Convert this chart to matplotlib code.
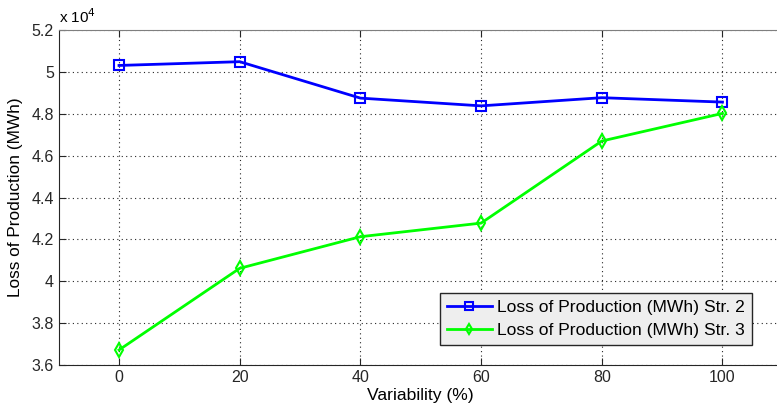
"""Loss of production versus variability for strategies 2 and 3."""

import matplotlib

matplotlib.use("Agg")

import matplotlib.pyplot as plt  # noqa: E402

plt.rcParams["font.family"] = ["Liberation Sans", "DejaVu Sans"]

variability = [0, 20, 40, 60, 80, 100]
loss_str2 = [5.031, 5.049, 4.875, 4.838, 4.877, 4.856]
loss_str3 = [3.672, 4.062, 4.213, 4.278, 4.670, 4.802]
x_ticks = [0, 20, 40, 60, 80, 100]
y_ticks = [3.6, 3.8, 4.0, 4.2, 4.4, 4.6, 4.8, 5.0, 5.2]
y_labels = ["3.6", "3.8", "4", "4.2", "4.4", "4.6", "4.8", "5", "5.2"]


def main() -> None:
    fig = plt.figure(figsize=(7.77, 4.12), dpi=100)
    ax = fig.add_axes([0.0755, 0.114, 0.932, 0.813])

    ax.plot(variability, loss_str2, color="#0000ff", linewidth=2.0,
            marker="s", markersize=7, markerfacecolor="none",
            markeredgewidth=1.5, label="Loss of Production (MWh) Str. 2")
    ax.plot(variability, loss_str3, color="#00ff00", linewidth=2.0,
            marker="d", markersize=7, markerfacecolor="none",
            markeredgewidth=1.5, label="Loss of Production (MWh) Str. 3")

    ax.set_xlim(-10, 110)
    ax.set_ylim(3.6, 5.2)
    ax.set_xticks(x_ticks)
    ax.set_yticks(y_ticks)
    ax.set_yticklabels(y_labels)
    ax.tick_params(direction="in", length=5, labelsize=11.5, colors="#262626",
                   top=True)
    ax.grid(True, color="#262626", linestyle=(0, (1, 3)), linewidth=0.8)

    for side in ("left", "bottom"):
        ax.spines[side].set_color("#262626")
    ax.spines["top"].set_color("#7f7f7f")
    ax.spines["right"].set_visible(False)

    ax.set_xlabel("Variability (%)", fontsize=12.6, labelpad=2)
    ax.set_ylabel("Loss of Production (MWh)", fontsize=12.4, labelpad=6)
    ax.text(0.0, 1.012, r"x 10$^4$", transform=ax.transAxes,
            fontsize=11, ha="left", va="bottom")

    legend = ax.legend(loc="lower right", bbox_to_anchor=(0.97, 0.034),
                       fontsize=12.6, fancybox=False, framealpha=1.0,
                       handlelength=2.6, borderpad=0.4, labelspacing=0.45,
                       handletextpad=0.3, markerscale=0.8)
    legend.get_frame().set_facecolor("#eeeeee")
    legend.get_frame().set_edgecolor("#262626")

    fig.savefig("out.png", dpi=100)
    plt.close(fig)


if __name__ == "__main__":
    main()
